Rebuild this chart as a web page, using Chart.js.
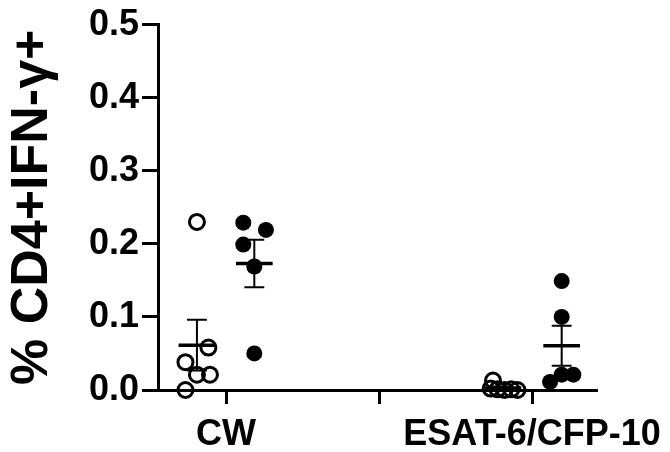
<!DOCTYPE html>
<html lang="en">
<head>
    <meta charset="UTF-8">
    <title>CD4+IFN-γ+</title>
    <script src="https://cdn.jsdelivr.net/npm/chart.js@4.4.1/dist/chart.umd.min.js"></script>
    <style>
        html, body {
            margin: 0;
            padding: 0;
            background: #fff;
        }
        .chart-box {
            width: 670px;
            height: 452px;
        }
    </style>
</head>
<body>
    <div class="chart-box">
        <canvas id="chart"></canvas>
    </div>

    <script>
        // axis ticks
        const tickPositions = [1, 2, 3];
        const tickLabels = ['CW', '', 'ESAT-6/CFP-10'];

        // group centres on the x axis (open = left, filled = right)
        const groupCenters = [0.81, 1.185, 2.81, 3.194];

        // values
        const cwOpen = [0.23, 0.058, 0.038, 0.021, 0.021, 0.0];
        const cwOpenJitter = [0, 0.075, -0.075, 0, 0.085, -0.075];

        const cwFilled = [0.229, 0.219, 0.199, 0.169, 0.05];
        const cwFilledJitter = [-0.072, 0.076, -0.072, 0, 0];

        const esatOpen = [0.013, 0.002, 0.001, 0.0, 0.001, 0.0];
        const esatOpenJitter = [-0.065, -0.08, -0.035, 0.01, 0.055, 0.095];

        const esatFilled = [0.149, 0.1, 0.011, 0.021, 0.021];
        const esatFilledJitter = [0, 0, -0.076, 0, 0.076];

        const groups = [
            { values: cwOpen, jitter: cwOpenJitter, filled: false },
            { values: cwFilled, jitter: cwFilledJitter, filled: true },
            { values: esatOpen, jitter: esatOpenJitter, filled: false },
            { values: esatFilled, jitter: esatFilledJitter, filled: true }
        ];

        function toPoints(g, i) {
            return g.values.map((v, k) => ({ x: groupCenters[i] + g.jitter[k], y: v }));
        }

        function meanSem(values) {
            const n = values.length;
            const mean = values.reduce((a, b) => a + b, 0) / n;
            const sd = Math.sqrt(values.reduce((a, b) => a + (b - mean) ** 2, 0) / (n - 1));
            return { mean, sem: sd / Math.sqrt(n) };
        }

        // mean line + SEM whiskers for each group
        const meanSemPlugin = {
            id: 'meanSem',
            afterDatasetsDraw(chart) {
                const { ctx, scales: { x, y } } = chart;
                ctx.save();
                ctx.strokeStyle = '#000';
                groups.forEach((g, i) => {
                    const { mean, sem } = meanSem(g.values);
                    const c = groupCenters[i];
                    const yMean = y.getPixelForValue(mean);
                    const yTop = y.getPixelForValue(mean + sem);
                    const yBot = y.getPixelForValue(Math.max(mean - sem, 0));

                    ctx.lineWidth = 3.5;
                    ctx.beginPath();
                    ctx.moveTo(x.getPixelForValue(c - 0.12), yMean);
                    ctx.lineTo(x.getPixelForValue(c + 0.12), yMean);
                    ctx.stroke();

                    ctx.lineWidth = 2;
                    ctx.beginPath();
                    ctx.moveTo(x.getPixelForValue(c), yTop);
                    ctx.lineTo(x.getPixelForValue(c), yBot);
                    ctx.moveTo(x.getPixelForValue(c - 0.065), yTop);
                    ctx.lineTo(x.getPixelForValue(c + 0.065), yTop);
                    ctx.moveTo(x.getPixelForValue(c - 0.065), yBot);
                    ctx.lineTo(x.getPixelForValue(c + 0.065), yBot);
                    ctx.stroke();
                });
                ctx.restore();
            }
        };

        const datasets = groups.map((g, i) => ({
            data: toPoints(g, i),
            pointStyle: 'circle',
            pointRadius: g.filled ? 8 : 7.5,
            pointBorderWidth: g.filled ? 0 : 3,
            pointBorderColor: '#000',
            pointBackgroundColor: g.filled ? '#000' : 'rgba(0,0,0,0)',
            pointHoverRadius: g.filled ? 8 : 7.5,
            clip: false
        }));

        const tickFont = { family: "'Liberation Sans', Arial, sans-serif", size: 36, weight: 'bold' };

        new Chart(document.getElementById('chart'), {
            type: 'scatter',
            data: { datasets },
            options: {
                responsive: true,
                maintainAspectRatio: false,
                animation: false,
                events: [],
                layout: {
                    padding: { top: 21, right: 73, bottom: 0, left: 0 }
                },
                plugins: {
                    legend: { display: false },
                    tooltip: { enabled: false }
                },
                scales: {
                    x: {
                        type: 'linear',
                        min: 1 + (158 - 226) / 153,
                        max: 1 + (597 - 226) / 153,
                        afterBuildTicks: s => { s.ticks = tickPositions.map(v => ({ value: v })); },
                        afterFit: s => {
                            s.height = 62;
                            s.paddingLeft = 0;
                            s.paddingRight = 0;
                        },
                        grid: {
                            display: true,
                            drawOnChartArea: false,
                            drawTicks: true,
                            tickLength: 14,
                            tickWidth: 3,
                            tickColor: '#000'
                        },
                        border: { display: true, width: 3, color: '#000' },
                        ticks: {
                            autoSkip: false,
                            maxRotation: 0,
                            padding: 9,
                            color: '#000',
                            font: tickFont,
                            callback: v => tickLabels[tickPositions.indexOf(v)] ?? ''
                        }
                    },
                    y: {
                        min: 0,
                        max: 0.5,
                        afterFit: s => { s.width = 158; },
                        grid: {
                            display: true,
                            drawOnChartArea: false,
                            drawTicks: true,
                            tickLength: 16,
                            tickWidth: 3,
                            tickColor: '#000'
                        },
                        border: { display: true, width: 3, color: '#000' },
                        ticks: {
                            stepSize: 0.1,
                            padding: 3,
                            color: '#000',
                            font: tickFont,
                            callback: v => v.toFixed(1)
                        },
                        title: {
                            display: true,
                            text: '% CD4+IFN-γ+',
                            color: '#000',
                            padding: { top: 1, bottom: 0 },
                            font: { family: "'Liberation Sans', Arial, sans-serif", size: 52, weight: 'bold' }
                        }
                    }
                }
            },
            plugins: [meanSemPlugin]
        });
    </script>
</body>
</html>
